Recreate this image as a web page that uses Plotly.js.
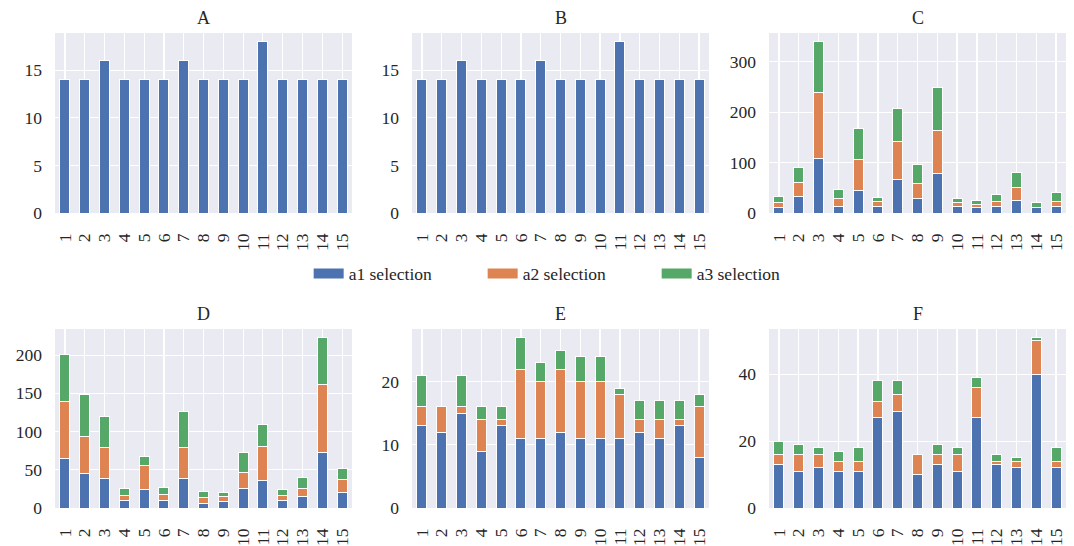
<!DOCTYPE html>
<html><head><meta charset="utf-8">
<script src="https://cdn.plot.ly/plotly-3.0.1.min.js"></script>
<style>html,body{margin:0;padding:0;background:#fff}</style>
</head><body><div id="chart" style="width:1074px;height:546px"></div>
<script>
const categories = ['1','2','3','4','5','6','7','8','9','10','11','12','13','14','15'];
const seriesNames = ['a1 selection','a2 selection','a3 selection'];
const panelTitles = ['A','B','C','D','E','F'];

const A_a1 = [14,14,16,14,14,14,16,14,14,14,18,14,14,14,14];
const B_a1 = [14,14,16,14,14,14,16,14,14,14,18,14,14,14,14];

const C_a1 = [10,32,108,13,45,12,67,28,79,12,10,12,25,10,13];
const C_a2 = [10,28,131,15,62,10,75,30,85,9,6,10,26,1,10];
const C_a3 = [12,30,101,19,61,8,65,39,85,7,9,15,30,10,17];

const D_a1 = [65,45,39,10,24,10,39,6,9,25,36,10,15,73,20];
const D_a2 = [74,49,40,6,31,8,40,8,6,21,45,6,11,88,17];
const D_a3 = [62,54,41,10,13,9,47,8,5,27,28,8,14,62,15];

const E_a1 = [13,12,15,9,13,11,11,12,11,11,11,12,11,13,8];
const E_a2 = [3,4,1,5,1,11,9,10,9,9,7,2,3,1,8];
const E_a3 = [5,0,5,2,2,5,3,3,4,4,1,3,3,3,2];

const F_a1 = [13,11,12,11,11,27,29,10,13,11,27,13,12,40,12];
const F_a2 = [3,5,4,3,3,5,5,6,3,5,9,1,2,10,2];
const F_a3 = [4,3,2,3,4,6,4,0,3,2,3,2,1,1,4];

const yTickSteps = [5,5,100,50,10,20];

const colors = ['#4C72B0','#DD8452','#55A868'];
const panelSeries = [[A_a1],[B_a1],[C_a1,C_a2,C_a3],[D_a1,D_a2,D_a3],[E_a1,E_a2,E_a3],[F_a1,F_a2,F_a3]];

const W = 1074, H = 546;
const colPx = [[55,352],[412,709],[769,1066]];
const rowPx = [[33,213],[329,508]];
const FONT = 'Liberation Serif';
const TXT = '#262626';

const traces = [];
const layout = {
  width: W, height: H,
  margin: {l:0, r:0, t:0, b:0},
  paper_bgcolor: '#ffffff',
  plot_bgcolor: '#EAEAF2',
  barmode: 'stack',
  bargap: 0.5,
  font: {family: FONT, size: 17.5, color: TXT},
  showlegend: true,
  legend: {
    orientation: 'h', x: 0.2874, xanchor: 'left', y: 1 - 273.5/H, yanchor: 'middle',
    traceorder: 'normal', entrywidth: 129, entrywidthmode: 'pixels',
    font: {family: FONT, size: 17.5, color: TXT}, bgcolor: 'rgba(0,0,0,0)'
  },
  annotations: []
};

panelSeries.forEach((series, p) => {
  const idx = p + 1;
  const col = p % 3, row = Math.floor(p / 3);
  const xa = 'xaxis' + (idx === 1 ? '' : idx);
  const ya = 'yaxis' + (idx === 1 ? '' : idx);
  const xr = 'x' + (idx === 1 ? '' : idx);
  const yr = 'y' + (idx === 1 ? '' : idx);
  const totals = categories.map((_, i) => series.reduce((s, arr) => s + arr[i], 0));
  const ymax = Math.max(...totals) * 1.05;
  series.forEach((vals, s) => {
    traces.push({
      type: 'bar', x: categories, y: vals, xaxis: xr, yaxis: yr,
      name: seriesNames[s], legendgroup: seriesNames[s],
      showlegend: false,
      width: 0.5,
      marker: {color: colors[s], line: {color: '#ffffff', width: 1}},
      hoverinfo: 'x+y+name'
    });
  });
  const xd = [colPx[col][0]/W, colPx[col][1]/W];
  const yd = [1 - rowPx[row][1]/H, 1 - rowPx[row][0]/H];
  layout[xa] = {
    domain: xd, anchor: yr, type: 'category', range: [-0.5, 14.5],
    tickmode: 'array', tickvals: categories, ticktext: categories,
    tickangle: -90, ticks: '', showgrid: true, gridcolor: '#ffffff', gridwidth: 1.2,
    zeroline: false, showline: false, ticklabelstandoff: 16,
    tickfont: {family: FONT, size: 17.5, color: TXT}, fixedrange: true
  };
  layout[ya] = {
    domain: yd, anchor: xr, range: [0, ymax], dtick: yTickSteps[p], tick0: 0,
    ticks: '', showgrid: true, gridcolor: '#ffffff', gridwidth: 1.2,
    zeroline: false, showline: false, ticklabelstandoff: 12,
    tickfont: {family: FONT, size: 17.5, color: TXT}, fixedrange: true
  };
  layout.annotations.push({
    text: panelTitles[p], xref: 'paper', yref: 'paper',
    x: (xd[0] + xd[1]) / 2, y: yd[1], xanchor: 'center', yanchor: 'bottom',
    yshift: 3, showarrow: false, font: {family: FONT, size: 18, color: TXT}
  });
});

// legend entries drawn as wide colour swatches like the reference
seriesNames.forEach((nm, s) => {
  traces.push({
    type: 'scatter', mode: 'lines', x: [null], y: [null], xaxis: 'x3', yaxis: 'y3',
    name: nm, legendgroup: nm, showlegend: true,
    line: {color: colors[s], width: 11}, hoverinfo: 'skip'
  });
});

Plotly.newPlot('chart', traces, layout, {displayModeBar: false, staticPlot: true});
</script>
</body></html>
